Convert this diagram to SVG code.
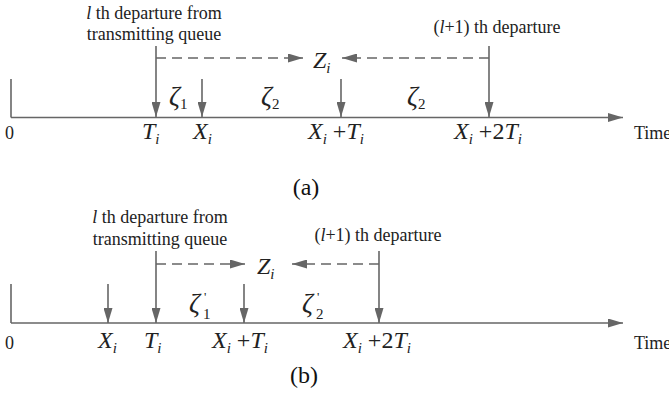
<svg xmlns="http://www.w3.org/2000/svg" width="669" height="395" viewBox="0 0 669 395">
<style>
.ln{stroke:#666;stroke-width:1.6;fill:none}
.ar{marker-end:url(#ah)}
.ds{stroke-dasharray:10 6}
.t{font-family:"Liberation Serif",serif;font-size:18px;fill:#222}
.m{font-family:"Liberation Serif",serif;font-size:24px;font-style:italic;fill:#222}
.z{font-family:"Liberation Serif",serif;font-size:27px;font-style:italic;fill:#222}
.s{font-size:15px}
.u{font-style:normal}
.p{font-family:"Liberation Serif",serif;font-size:15px;fill:#222}
.pr{font-family:"Liberation Serif",serif;font-size:13px;fill:#222}
.lab{font-family:"Liberation Serif",serif;font-size:24px;fill:#111}
</style>
<defs>
<marker id="ah" markerUnits="userSpaceOnUse" markerWidth="15" markerHeight="9" refX="15" refY="4.5" orient="auto">
<path d="M0,0 L15,4.5 L0,9 z" fill="#666"/>
</marker>
</defs>
<rect width="669" height="395" fill="#fff"/>

<g id="panel-a">
<g id="a-connectors">
<path class="ln" d="M11,79 V117.5"/>
<path class="ln ar" d="M11,117.5 H623"/>
<path class="ln ar" d="M156,46 V117"/>
<path class="ln ar" d="M202,79 V117"/>
<path class="ln ar" d="M341,79 V117"/>
<path class="ln ar" d="M489,46 V117"/>
<path class="ln ds ar" d="M156,58 H303"/>
<path class="ln ds ar" d="M489,58 H342"/>
</g>
<g id="a-ldep">
<text class="t" x="154" y="19" text-anchor="middle"><tspan font-style="italic">l</tspan> th departure from</text>
<text class="t" x="154" y="40" text-anchor="middle">transmitting queue</text>
</g>
<g id="a-l1dep"><text class="t" x="497" y="33" text-anchor="middle">(<tspan font-style="italic">l</tspan>+1) th departure</text></g>
<g id="a-Z"><text class="m" x="313" y="68">Z<tspan class="s" dy="5">i</tspan></text></g>
<g id="a-zeta">
<text class="z" x="169" y="105">ζ<tspan class="s u" dy="4">1</tspan></text>
<text class="z" x="261" y="105">ζ<tspan class="s u" dy="4">2</tspan></text>
<text class="z" x="407" y="105">ζ<tspan class="s u" dy="4">2</tspan></text>
</g>
<g id="a-ticks">
<text class="t" x="5" y="139" font-size="17">0</text>
<text class="m" x="142" y="139">T<tspan class="s" dy="5">i</tspan></text>
<text class="m" x="193" y="139">X<tspan class="s" dy="5">i</tspan></text>
<text class="m" x="308" y="139">X<tspan class="s" dy="5">i</tspan><tspan class="u" dy="-5"> +</tspan>T<tspan class="s" dy="5">i</tspan></text>
<text class="m" x="454" y="139">X<tspan class="s" dy="5">i</tspan><tspan class="u" dy="-5"> +2</tspan>T<tspan class="s" dy="5">i</tspan></text>
<text class="t" x="634" y="139">Time</text>
</g>
<text class="lab" x="306" y="195" text-anchor="middle">(a)</text>
</g>

<g id="panel-b">
<g id="b-connectors">
<path class="ln" d="M11,284 V323"/>
<path class="ln ar" d="M11,323 H623"/>
<path class="ln ar" d="M108,284 V323"/>
<path class="ln ar" d="M156,251 V323"/>
<path class="ln ar" d="M244,284 V323"/>
<path class="ln ar" d="M379,251 V323"/>
<path class="ln ds ar" d="M156,264 H245"/>
<path class="ln ds ar" d="M379,264 H292"/>
</g>
<g id="b-ldep">
<text class="t" x="160" y="223" text-anchor="middle"><tspan font-style="italic">l</tspan> th departure from</text>
<text class="t" x="160" y="245" text-anchor="middle">transmitting queue</text>
</g>
<g id="b-l1dep"><text class="t" x="378" y="241" text-anchor="middle">(<tspan font-style="italic">l</tspan>+1) th departure</text></g>
<g id="b-Z"><text class="m" x="257" y="274">Z<tspan class="s" dy="5">i</tspan></text></g>
<g id="b-zeta">
<text class="z" x="189" y="312">ζ</text>
<text class="pr" x="204" y="301">'</text>
<text class="p" x="203" y="319">1</text>
<text class="z" x="302" y="312">ζ</text>
<text class="pr" x="317" y="301">'</text>
<text class="p" x="316" y="319">2</text>
</g>
<g id="b-ticks">
<text class="t" x="5" y="349" font-size="17">0</text>
<text class="m" x="98" y="348">X<tspan class="s" dy="5">i</tspan></text>
<text class="m" x="144" y="348">T<tspan class="s" dy="5">i</tspan></text>
<text class="m" x="212" y="348">X<tspan class="s" dy="5">i</tspan><tspan class="u" dy="-5"> +</tspan>T<tspan class="s" dy="5">i</tspan></text>
<text class="m" x="343" y="348">X<tspan class="s" dy="5">i</tspan><tspan class="u" dy="-5"> +2</tspan>T<tspan class="s" dy="5">i</tspan></text>
<text class="t" x="634" y="349">Time</text>
</g>
<text class="lab" x="304" y="383" text-anchor="middle">(b)</text>
</g>
</svg>
